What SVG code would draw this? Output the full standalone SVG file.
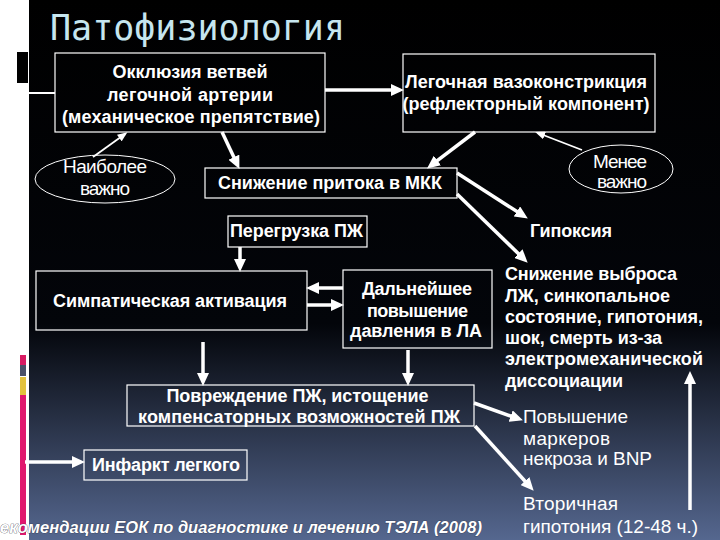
<svg xmlns="http://www.w3.org/2000/svg" width="720" height="540" viewBox="0 0 720 540">
<defs>
<linearGradient id="bg" x1="0" y1="0" x2="0" y2="1">
<stop offset="0" stop-color="#000000"/>
<stop offset="0.6" stop-color="#03050a"/>
<stop offset="1" stop-color="#55678f"/>
</linearGradient>
<marker id="ah" markerUnits="userSpaceOnUse" markerWidth="14" markerHeight="12" refX="8" refY="6" orient="auto">
<path d="M0,0 L13,6 L0,12 z" fill="#ffffff"/>
</marker>
<marker id="ahs" markerUnits="userSpaceOnUse" markerWidth="10" markerHeight="8" refX="7" refY="4" orient="auto">
<path d="M0,0 L10,4 L0,8 z" fill="#ffffff"/>
</marker>
<style>
.box{fill:#000000;fill-opacity:0;stroke:#ffffff;stroke-width:1.2}
.ell{fill:none;stroke:#ffffff;stroke-width:1}
.t{font-family:"Liberation Sans",Arial,sans-serif;font-weight:bold;fill:#ffffff;font-size:18px}
.r{font-family:"Liberation Sans",Arial,sans-serif;fill:#ffffff;font-size:19px}
.m{text-anchor:middle}
.thick{stroke:#ffffff;stroke-width:3.5;fill:none;marker-end:url(#ah)}
.thin{stroke:#ffffff;stroke-width:1.8;fill:none;marker-end:url(#ahs)}
</style>
</defs>
<rect x="0" y="0" width="720" height="540" fill="#ffffff"/>
<rect x="29" y="0" width="691" height="540" fill="url(#bg)"/>
<rect x="17" y="52" width="11" height="31" fill="#000000"/>
<rect x="20" y="355" width="6" height="10" fill="#d81b63"/>
<rect x="20" y="365" width="6" height="11" fill="#4a5068"/>
<rect x="20" y="377" width="6" height="18" fill="#e2c23e"/>
<rect x="20" y="395" width="6" height="140" fill="#e0186e"/>

<text x="50" y="40" font-family="DejaVu Sans Mono, monospace" font-size="35" fill="#c6e6ef">Патофизиология</text>

<g id="connectors">
<line x1="25" y1="93" x2="55" y2="93" stroke="#ffffff" stroke-width="2"/>
<line class="thick" x1="325" y1="90" x2="399" y2="90"/>
<line class="thin" x1="93" y1="157" x2="125" y2="134"/>
<line class="thick" x1="222" y1="132" x2="237.3" y2="164.4"/>
<line class="thick" x1="475" y1="132" x2="431" y2="165.4"/>
<line class="thin" x1="582" y1="150" x2="538" y2="133"/>
<line class="thick" x1="457" y1="173" x2="523.6" y2="215.8"/>
<line class="thick" x1="457" y1="194" x2="524.1" y2="259.2"/>
<line class="thick" x1="240" y1="247" x2="240" y2="267"/>
<line class="thick" x1="343" y1="288" x2="311" y2="288"/>
<line class="thick" x1="307" y1="305" x2="339" y2="305"/>
<line class="thick" x1="203" y1="342" x2="203" y2="381"/>
<line class="thick" x1="408" y1="350" x2="408" y2="381"/>
<line class="thick" x1="474" y1="403" x2="518.2" y2="418.7"/>
<line class="thick" x1="475" y1="426" x2="530.3" y2="487"/>
<line class="thick" x1="690" y1="510" x2="690" y2="376"/>
<line class="thick" x1="25" y1="462" x2="80" y2="462"/>
</g>

<g id="n-okkluziya">
<rect class="box" x="55" y="53" width="270" height="79"/>
<text class="t m" x="190" y="78" textLength="155">Окклюзия ветвей</text>
<text class="t m" x="190" y="101" textLength="166">легочной артерии</text>
<text class="t m" x="191" y="123" textLength="258">(механическое препятствие)</text>
</g>

<g id="n-vazokonstr">
<rect class="box" x="403" y="54" width="252" height="78"/>
<text class="t m" x="526" y="88" textLength="242">Легочная вазоконстрикция</text>
<text class="t m" x="526" y="110" textLength="247">(рефлекторный компонент)</text>
</g>

<g id="n-naibolee">
<ellipse class="ell" cx="105" cy="179" rx="70" ry="24"/>
<text class="r m" x="105" y="173" font-size="18.5" textLength="84">Наиболее</text>
<text class="r m" x="105" y="195" font-size="18.5" textLength="50">важно</text>
</g>

<g id="n-menee">
<ellipse class="ell" cx="621" cy="169" rx="52" ry="24"/>
<text class="r m" x="620" y="168" font-size="18.5" textLength="54">Менее</text>
<text class="r m" x="622" y="188" font-size="18.5" textLength="50">важно</text>
</g>

<g id="n-snizhenie">
<rect class="box" x="205" y="168" width="252" height="30"/>
<text class="t m" x="330" y="189" textLength="224">Снижение притока в МКК</text>
</g>

<g id="n-peregruzka">
<rect class="box" x="228" y="216" width="139" height="31"/>
<text class="t m" x="296.5" y="237" textLength="133">Перегрузка ПЖ</text>
</g>

<g id="n-gipoksiya">
<text class="t" x="530" y="237" textLength="82">Гипоксия</text>
</g>

<g id="n-vybros">
<text class="t" x="505" y="280" textLength="172">Снижение выброса</text>
<text class="t" x="505" y="302" textLength="165">ЛЖ, синкопальное</text>
<text class="t" x="505" y="323" textLength="198">состояние, гипотония,</text>
<text class="t" x="505" y="344" textLength="157">шок, смерть из-за</text>
<text class="t" x="505" y="365" textLength="198">электромеханической</text>
<text class="t" x="505" y="387" textLength="118">диссоциации</text>
</g>

<g id="n-simpat">
<rect class="box" x="36" y="271" width="271" height="59"/>
<text class="t m" x="170" y="307" textLength="234">Симпатическая активация</text>
</g>

<g id="n-dalneyshee">
<rect class="box" x="343" y="270" width="149" height="78"/>
<text class="t m" x="417" y="295" textLength="110">Дальнейшее</text>
<text class="t m" x="417.5" y="317" textLength="101">повышение</text>
<text class="t m" x="416" y="337" textLength="132">давления в ЛА</text>
</g>

<g id="n-povrezhdenie">
<rect class="box" x="127" y="385" width="347" height="41"/>
<text class="t m" x="297.5" y="402" textLength="262">Повреждение ПЖ, истощение</text>
<text class="t m" x="299" y="423" textLength="322">компенсаторных возможностей ПЖ</text>
</g>

<g id="n-markery">
<text class="r" x="523" y="423" textLength="105">Повышение</text>
<text class="r" x="523" y="445" textLength="87">маркеров</text>
<text class="r" x="523" y="465" textLength="129">некроза и BNP</text>
</g>

<g id="n-infarkt">
<rect class="box" x="84" y="450" width="163" height="30"/>
<text class="t m" x="166" y="471" textLength="148">Инфаркт легкого</text>
</g>

<g id="n-vtorichnaya">
<text class="r" x="523" y="510" textLength="95">Вторичная</text>
<text class="r" x="523" y="533" textLength="175">гипотония (12-48 ч.)</text>
</g>

<text x="0" y="533" textLength="482" font-family="Liberation Sans, Arial, sans-serif" font-style="italic" font-weight="bold" font-size="16.5" fill="#ffffff" stroke="#2a2f40" stroke-width="0.6" paint-order="stroke">екомендации ЕОК по диагностике и лечению ТЭЛА (2008)</text>
</svg>
